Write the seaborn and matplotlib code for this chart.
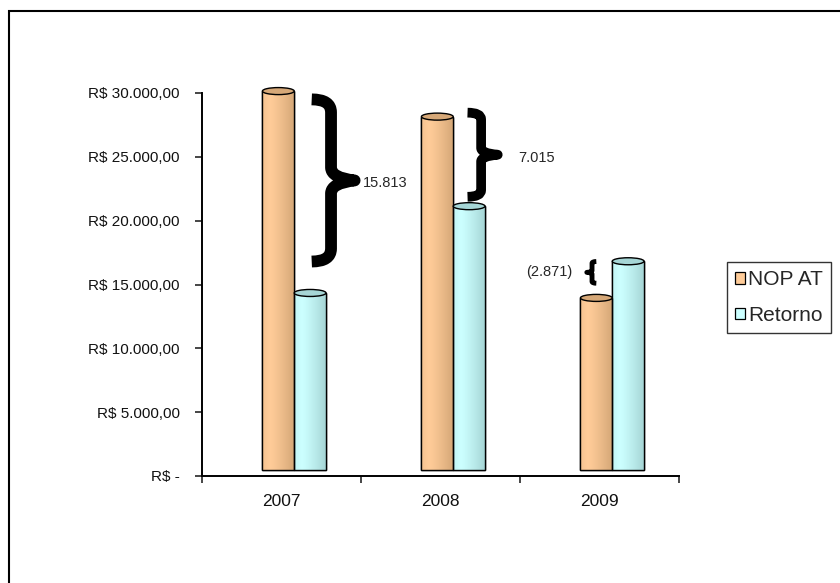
import matplotlib
matplotlib.use("Agg")
import matplotlib.pyplot as plt
import seaborn as sns
import pandas as pd
import numpy as np
from matplotlib.patches import Rectangle, Ellipse, PathPatch
from matplotlib.path import Path
from matplotlib.colors import to_rgb

# data
years = ["2007", "2008", "2009"]
nop_at = [29700, 27700, 13500]
retorno = [13887, 20685, 16371]
diff_labels = ["15.813", "7.015", "(2.871)"]
series_names = ["NOP AT", "Retorno"]
ytick_values = [0, 5000, 10000, 15000, 20000, 25000, 30000]
ytick_labels = ["R$ -", "R$ 5.000,00", "R$ 10.000,00", "R$ 15.000,00",
                "R$ 20.000,00", "R$ 25.000,00", "R$ 30.000,00"]

df = pd.DataFrame({
    "ano": years * 2,
    "valor": nop_at + retorno,
    "serie": [series_names[0]] * 3 + [series_names[1]] * 3,
})

colors = {"NOP AT": "#FFCC99", "Retorno": "#CCFFFF"}
dark = {"NOP AT": "#D6A878", "Retorno": "#A6D6D6"}

sns.set_theme(style="white")
plt.rcParams["font.family"] = ["Liberation Sans", "DejaVu Sans"]

fig = plt.figure(figsize=(8.4, 5.83), dpi=100)
ax = fig.add_axes([202 / 840, 1 - 476 / 583, 477 / 840, 383 / 583])

sns.barplot(data=df, x="ano", y="valor", hue="serie", palette=colors,
            width=0.4, edgecolor="black", linewidth=1.0, legend=False, ax=ax)

# cylinder-like shading, 3d depth offset and caps
shift_x = 0.08
shift_y = 450
for container, name in zip(ax.containers, series_names):
    light = np.array(to_rgb(colors[name]))
    shade = np.array(to_rgb(dark[name]))
    for bar in container:
        bar.set_x(bar.get_x() + shift_x)
        bar.set_y(shift_y)
        bar.set_clip_on(False)
        x0, w, h = bar.get_x(), bar.get_width(), bar.get_height()
        t = np.linspace(0, 1, 60)
        k = np.clip(np.abs(t - 0.25) / 0.75, 0, 1) ** 1.2
        grad = light[None, :] * (1 - k[:, None]) + shade[None, :] * k[:, None]
        im = ax.imshow(grad[None, :, :], extent=[x0, x0 + w, shift_y, shift_y + h],
                       aspect="auto", zorder=bar.get_zorder() + 0.1)
        im.set_clip_path(bar)
        im.set_clip_box(None)
        ax.add_patch(Rectangle((x0, shift_y), w, h, fill=False, edgecolor="black",
                               linewidth=1.0, clip_on=False,
                               zorder=bar.get_zorder() + 0.2))
        ax.add_patch(Ellipse((x0 + w / 2, shift_y + h), w, 550, facecolor=shade,
                             edgecolor="black", linewidth=1.0, clip_on=False,
                             zorder=bar.get_zorder() + 0.3))


def brace(ax, x, y0, y1, w, lw, point="right"):
    # curly brace between y0 and y1, tip at x + w (or x - w)
    s = 1 if point == "right" else -1
    ym = (y0 + y1) / 2
    xm = x + s * w * 0.45
    xt = x + s * w
    q = (y1 - y0) * 0.08
    verts = [(x, y1), (xm, y1), (xm, y1 - q), (xm, y1 - 2 * q),
             (xm, ym + q), (xm, ym + q * 0.2), (xt, ym),
             (xm, ym - q * 0.2), (xm, ym - q),
             (xm, y0 + 2 * q), (xm, y0 + q), (xm, y0), (x, y0)]
    codes = [Path.MOVETO, Path.CURVE3, Path.CURVE3, Path.LINETO,
             Path.LINETO, Path.CURVE3, Path.CURVE3, Path.CURVE3, Path.CURVE3,
             Path.LINETO, Path.LINETO, Path.CURVE3, Path.CURVE3]
    ax.add_patch(PathPatch(Path(verts, codes), fill=False, edgecolor="black",
                           linewidth=lw, capstyle="butt", joinstyle="round",
                           zorder=5))


brace(ax, 0.19, 16800, 29500, 0.27, 8.5)
brace(ax, 1.17, 21870, 28460, 0.19, 7)
brace(ax, 1.98, 15100, 16800, 0.06, 3.5, point="left")

ax.text(0.51, 22970, diff_labels[0], fontsize=10.5, ha="left", va="center")
ax.text(1.49, 24930, diff_labels[1], fontsize=10.5, ha="left", va="center")
ax.text(1.83, 16000, diff_labels[2], fontsize=10.5, ha="right", va="center")

ax.set_xlim(-0.5, 2.5)
ax.set_ylim(0, 30000)
ax.set_yticks(ytick_values)
ax.set_yticklabels(ytick_labels, fontsize=11, color="#111111")
ax.tick_params(axis="y", direction="out", length=5, width=1.2, pad=11, left=True)

ax.set_xticks([-0.5, 0.5, 1.5, 2.5])
ax.set_xticklabels([])
ax.set_xticks([0, 1, 2], minor=True)
ax.set_xticklabels(years, minor=True, fontsize=12.5, color="#111111")
ax.tick_params(axis="x", which="major", direction="out", length=5, width=1.2, bottom=True)
ax.tick_params(axis="x", which="minor", length=0, pad=13)
ax.set_xlabel("")
ax.set_ylabel("")

for side in ["top", "right"]:
    ax.spines[side].set_visible(False)
for side in ["left", "bottom"]:
    ax.spines[side].set_color("black")
    ax.spines[side].set_linewidth(1.4)
ax.grid(False)

handles = [Rectangle((0, 0), 1, 1, facecolor=colors[n], edgecolor="black", linewidth=0.9)
           for n in series_names]
leg = fig.legend(handles, series_names, loc="upper left",
                 bbox_to_anchor=(727 / 840, 1 - 262 / 583), fontsize=15,
                 frameon=True, fancybox=False, handlelength=0.45, handleheight=0.45,
                 handletextpad=0.15, borderpad=0.4, labelspacing=0.8,
                 borderaxespad=0)
leg.get_frame().set_edgecolor("black")
leg.get_frame().set_linewidth(1.0)

# outer chart frame (clipped at right and bottom)
fig.patches.append(Rectangle((9 / 840, -0.1), 1.2, 1 - 11 / 583 + 0.1,
                             transform=fig.transFigure, fill=False,
                             edgecolor="black", linewidth=1.5))

fig.savefig("out.png", dpi=100)
